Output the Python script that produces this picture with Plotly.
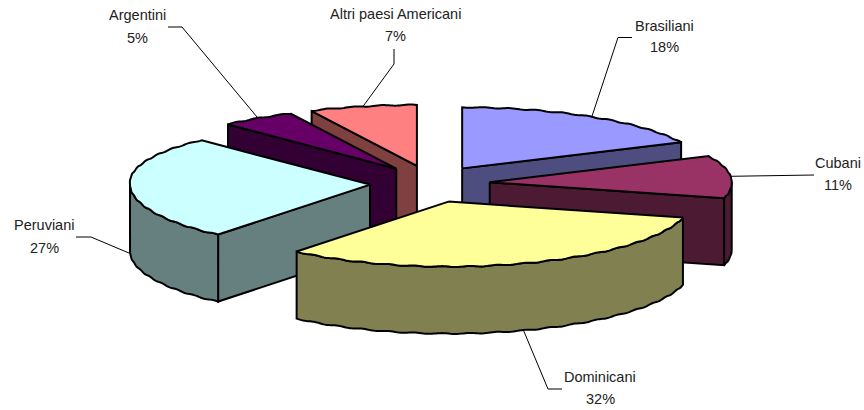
import math
import plotly.graph_objects as go

# Data
categories = ["Brasiliani", "Cubani", "Dominicani", "Peruviani", "Argentini", "Altri paesi Americani"]
values = [18, 11, 32, 27, 5, 7]
percent_labels = ["18%", "11%", "32%", "27%", "5%", "7%"]

# Styles and layout
top_colors = ["#9999FF", "#993366", "#FFFF99", "#CCFFFF", "#660066", "#FF8080"]
side_colors = ["#4D4D80", "#4D1A33", "#808050", "#668080", "#330033", "#804040"]
draw_order = [5, 4, 3, 0, 1, 2]
CX, CY, RY_BACK, RY_FRONT, DEPTH = 430, 184, 61, 65, 67
EX, EY = 60, 18.5
# elbow of each leader line, then the free end
leader_paths = [[(618, 37.5), (632, 37.5)], [(814, 175)], [(548, 389), (562, 389)],
                [(91, 237), (76, 237)], [(182, 27), (168, 27)], [(394, 64), (394, 49)]]
label_pos = [(664, 26, 47), (838, 163, 185), (600, 377, 399), (44, 225, 248), (137, 15, 38), (395, 14, 36)]
FONT = dict(family="Liberation Sans, Arial, sans-serif", size=14.5, color="#222222")

total = sum(values)


def half_width(deg):
    # slight perspective: the drawn ellipse is not quite symmetrical
    if deg <= 180:
        return 242
    if deg <= 270:
        return 237 + 3 * (deg - 180) / 90
    return 240 + 8 * math.cos(math.radians(deg))


def rim(ax, ay, deg):
    t = math.radians(deg)
    ripple = 0.45 * math.sin(math.radians(deg * 55))
    ry = RY_BACK if math.cos(t) > 0 else RY_FRONT
    return ax + half_width(deg) * math.sin(t), ay - ry * math.cos(t) + ripple


def arc(ax, ay, a, b, dz=0):
    n = max(2, int(abs(b - a)) * 2)
    pts = [rim(ax, ay, a + (b - a) * i / n) for i in range(n + 1)]
    return [(x, y + dz) for x, y in pts]


fig = go.Figure()


def poly(pts, fill):
    xs = [p[0] for p in pts] + [pts[0][0]]
    ys = [p[1] for p in pts] + [pts[0][1]]
    fig.add_trace(go.Scatter(x=xs, y=ys, mode="lines", fill="toself", fillcolor=fill,
                             line=dict(color="black", width=2, simplify=False),
                             hoverinfo="skip", showlegend=False))


angles = []
cum = 0
for v in values:
    a = cum / total * 360
    cum += v
    angles.append((a, cum / total * 360))

apexes = []
for a, b in angles:
    m = math.radians((a + b) / 2)
    apexes.append((CX + EX * math.sin(m), CY - EY * math.cos(m)))

for i in draw_order:
    a, b = angles[i]
    ax, ay = apexes[i]
    # radial side faces that look at the viewer
    if b < 180:
        x, y = rim(ax, ay, b)
        poly([(ax, ay), (x, y), (x, y + DEPTH), (ax, ay + DEPTH)], side_colors[i])
    if a > 180:
        x, y = rim(ax, ay, a)
        poly([(ax, ay), (x, y), (x, y + DEPTH), (ax, ay + DEPTH)], side_colors[i])
    # outer wall
    lo, hi = max(a, 90), min(b, 270)
    if hi > lo:
        poly(arc(ax, ay, lo, hi) + arc(ax, ay, hi, lo, DEPTH), side_colors[i])
    # top face
    poly([(ax, ay)] + arc(ax, ay, a, b), top_colors[i])

# Leader lines and labels
for i, path in enumerate(leader_paths):
    a, b = angles[i]
    ax, ay = apexes[i]
    m = (a + b) / 2
    x0, y0 = rim(ax, ay, m)
    if 90 < m < 270:
        y0 += DEPTH
    pts = [(x0, y0)] + path
    fig.add_trace(go.Scatter(x=[p[0] for p in pts], y=[p[1] for p in pts], mode="lines",
                             line=dict(color="black", width=1), hoverinfo="skip", showlegend=False))
    lx, y1, y2 = label_pos[i]
    fig.add_annotation(x=lx, y=y1, text=categories[i], showarrow=False, font=FONT, xanchor="center", yanchor="middle")
    fig.add_annotation(x=lx, y=y2, text=percent_labels[i], showarrow=False, font=FONT, xanchor="center", yanchor="middle")

fig.update_layout(
    width=864, height=410, margin=dict(l=0, r=0, t=0, b=0),
    paper_bgcolor="white", plot_bgcolor="white", showlegend=False, hovermode=False,
    xaxis=dict(range=[0, 864], visible=False, fixedrange=True),
    yaxis=dict(range=[410, 0], visible=False, fixedrange=True),
)
fig.write_html("out.html", config={"displayModeBar": False},
               post_script="document.body.style.margin='0';document.body.style.overflow='hidden';")
